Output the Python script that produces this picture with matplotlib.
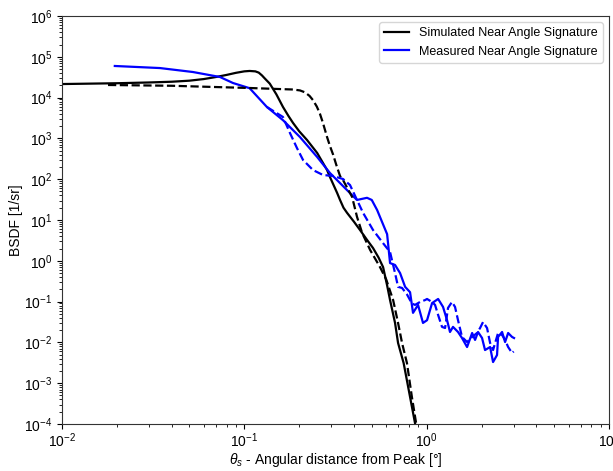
import matplotlib
matplotlib.use("Agg")
import matplotlib.pyplot as plt

plt.rcParams['font.family'] = ['Liberation Sans', 'DejaVu Sans']
plt.rcParams['mathtext.fontset'] = 'custom'
plt.rcParams['mathtext.rm'] = 'Liberation Sans'
plt.rcParams['mathtext.it'] = 'Liberation Sans:italic'

# simulated near angle signature (solid / dashed)
sim_x = [0.01, 0.02, 0.03, 0.04, 0.05, 0.06, 0.07, 0.08, 0.09, 0.1, 0.107, 0.115,
         0.12, 0.125, 0.13, 0.138, 0.15, 0.163, 0.175, 0.185, 0.2, 0.221, 0.251,
         0.284, 0.295, 0.323, 0.335, 0.35, 0.366, 0.4, 0.431, 0.47, 0.508, 0.545, 0.577,
         0.607, 0.63, 0.671, 0.697, 0.748, 0.811, 0.863, 0.88]
sim_y = [2.15e4, 2.25e4, 2.35e4, 2.45e4, 2.6e4, 2.85e4, 3.2e4, 3.6e4, 4.05e4, 4.4e4, 4.5e4, 4.4e4,
         4.1e4, 3.5e4, 2.9e4, 2.2e4, 1.2e4, 5.9e3, 3.5e3, 2.4e3, 1.5e3, 910, 440,
         170, 113, 46, 31, 20, 15, 9, 5.7, 3.3, 2.06, 1.2, 0.70,
         0.25, 0.109, 0.030, 0.0097, 3.1e-3, 4.6e-4, 1.06e-4, 6e-5]

sim2_x = [0.0179, 0.04, 0.107, 0.157, 0.185, 0.202, 0.215, 0.228, 0.238, 0.25, 0.26,
          0.27, 0.284, 0.295, 0.307, 0.32, 0.335, 0.348, 0.39, 0.415, 0.443, 0.49,
          0.555, 0.6, 0.655, 0.697, 0.733, 0.78, 0.83, 0.875, 0.89]
sim2_y = [2.04e4, 1.95e4, 1.72e4, 1.62e4, 1.58e4, 1.5e4, 1.35e4, 1.1e4, 8.7e3, 6e3, 4e3,
          2.4e3, 1.1e3, 650, 400, 220, 120, 95, 37, 12, 4.8, 1.84,
          0.7, 0.35, 0.109, 0.030, 0.0097, 3.1e-3, 4.6e-4, 1.06e-4, 7e-5]

# measured near angle signature (solid / dashed)
meas_x = [0.0195, 0.0345, 0.0523, 0.0736, 0.0867, 0.107, 0.133, 0.163, 0.202, 0.251,
          0.295, 0.366, 0.415, 0.471, 0.5, 0.535, 0.607, 0.63, 0.671, 0.715, 0.762,
          0.811, 0.842, 0.897, 0.955, 1.005, 1.071, 1.156, 1.23, 1.294, 1.343, 1.395,
          1.486, 1.563, 1.666, 1.776, 1.843, 1.913, 2.013, 2.09, 2.228, 2.313, 2.432,
          2.464, 2.592, 2.692, 2.798, 2.94, 3.015]
meas_y = [5.96e4, 5.3e4, 4.24e4, 3.2e4, 2.28e4, 1.7e4, 5.9e3, 2.8e3, 1.08e3, 350,
          142, 54, 31, 35, 31, 17.6, 4.5, 0.88, 0.79, 0.5, 0.23,
          0.17, 0.053, 0.083, 0.030, 0.035, 0.092, 0.116, 0.074, 0.035, 0.018, 0.024,
          0.018, 0.0128, 0.0077, 0.017, 0.0115, 0.018, 0.0128, 0.0065, 0.0077, 0.0033, 0.0049,
          0.0136, 0.018, 0.0102, 0.017, 0.0136, 0.0128]

meas2_x = [0.133, 0.163, 0.178, 0.1945, 0.21, 0.238, 0.27, 0.307, 0.348, 0.38, 0.415,
           0.448, 0.508, 0.577, 0.63, 0.671, 0.697, 0.733, 0.78, 0.83, 0.863, 0.92,
           0.98, 1.005, 1.07, 1.112, 1.156, 1.214, 1.262, 1.31, 1.377, 1.431, 1.486,
           1.563, 1.666, 1.776, 1.889, 1.963, 2.038, 2.144, 2.228, 2.313, 2.464, 2.592,
           2.692, 2.798, 2.94, 3.0]
meas2_y = [5.9e3, 3.35e3, 1.36e3, 580, 296, 168, 127, 120, 101, 72, 31,
           15, 5.7, 2.7, 1.64, 0.5, 0.23, 0.216, 0.15, 0.09, 0.083, 0.098,
           0.109, 0.116, 0.098, 0.083, 0.047, 0.024, 0.0225, 0.07, 0.098, 0.074, 0.035,
           0.0136, 0.0102, 0.0136, 0.017, 0.0225, 0.0316, 0.0225, 0.0097, 0.0065, 0.017, 0.0152,
           0.0115, 0.0077, 0.0055, 0.006]

fig = plt.figure(figsize=(6.13, 4.71), dpi=100)
ax = fig.add_axes([0.101, 0.0998, 0.8925, 0.8662])

ax.loglog(sim_x, sim_y, color='black', lw=1.6, label='Simulated Near Angle Signature')
ax.loglog(meas_x, meas_y, color='blue', lw=1.6, label='Measured Near Angle Signature')
ax.loglog(sim2_x, sim2_y, color='black', lw=1.6, ls='--')
ax.loglog(meas2_x, meas2_y, color='blue', lw=1.6, ls='--')

ax.set_xlim(1e-2, 1e1)
ax.set_ylim(1e-4, 1e6)
ax.set_xlabel(r'$\theta_s$ - Angular distance from Peak [°]', fontsize=10)
ax.set_ylabel('BSDF [1/sr]', fontsize=10)
ax.xaxis.set_label_coords(0.5, -0.066)
ax.yaxis.set_label_coords(-0.072, 0.5)
ax.tick_params(which='both', direction='out', labelsize=10, top=False, right=False)
ax.tick_params(axis='x', pad=2)
for s in ax.spines.values():
    s.set_color('#333333')
ax.legend(loc='upper right', fontsize=9)

fig.savefig('out.png', dpi=100)
